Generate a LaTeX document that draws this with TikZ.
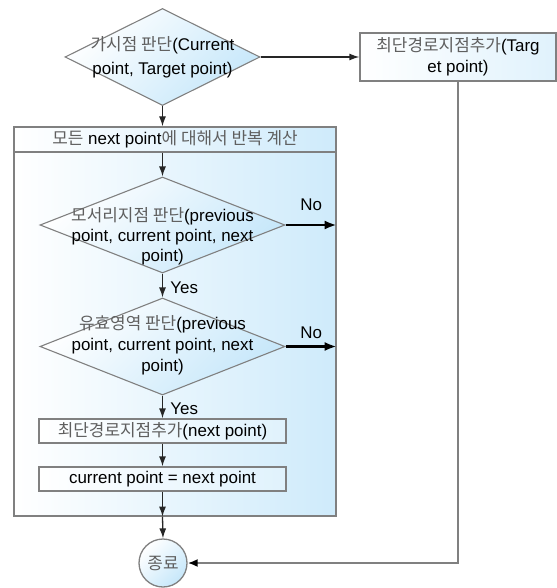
\documentclass[tikz,border=0pt]{standalone}
\usepackage{fontspec}
\setmainfont{Liberation Sans}
\newfontfamily\kr{Noto Sans CJK KR}
\usetikzlibrary{shapes.geometric,arrows.meta}
\definecolor{skyfill}{RGB}{198,231,250}
\definecolor{edgegray}{RGB}{128,128,128}
\definecolor{krgray}{RGB}{95,95,95}
\newcommand{\ko}[1]{{\kr\color{krgray}#1}}
\tikzset{
  loopbox/.style={rectangle, draw=edgegray, line width=1.3bp, left color=white, right color=skyfill!85},
  procbox/.style={rectangle, draw=edgegray, line width=1.3bp, left color=white, right color=skyfill!55, inner sep=0pt},
  decision/.style={diamond, draw=edgegray, line width=1.1bp, inner sep=0pt, top color=white, bottom color=skyfill, shading angle=45},
  endcircle/.style={circle, draw=edgegray, line width=1.3bp, inner sep=0pt, top color=white, bottom color=skyfill, shading angle=45},
  flow/.style={draw=black!85, line width=1.3bp, -{Latex[length=10bp,width=7bp]}},
  nobranch/.style={draw=black, line width=2.5bp, -{Latex[length=12bp,width=9bp]}},
  backline/.style={draw=edgegray, line width=2bp, -{Latex[length=10bp,width=8bp,color=black]}}
}
\begin{document}
\begin{tikzpicture}[x=1bp, y=-1bp, font=\fontsize{17}{21}\selectfont]
  \useasboundingbox (0,0) rectangle (557,588);
  \node [loopbox, minimum width=322bp, minimum height=364bp] (loopbody) at (175,334) {};
  \node [loopbox, minimum width=322bp, minimum height=25bp, inner sep=0pt] (loophead) at (175,139.5) {\ko{모든} next point\ko{에 대해서 반복 계산}};
  \node [decision, minimum width=195bp, minimum height=97bp] (vis) at (162.5,57) {};
  \node [align=center, font=\fontsize{17}{24}\selectfont] (vistxt) at (162.5,57) {\ko{가시점 판단}(Current\\point, Target point)};
  \node [procbox, minimum width=196bp, minimum height=48bp, align=center] (addtarget) at (458,57) {\ko{최단경로지점추가}(Targ\\et point)};
  \node [decision, minimum width=245bp, minimum height=96bp] (corner) at (162.5,225) {};
  \node [align=center, font=\fontsize{17}{20}\selectfont] (cornertxt) at (162.5,236) {\ko{모서리지점 판단}(previous\\point, current point, next\\point)};
  \node [decision, minimum width=245bp, minimum height=97bp] (valid) at (162.5,346.5) {};
  \node [align=center] (validtxt) at (162.5,345) {\ko{유효영역 판단}(previous\\point, current point, next\\point)};
  \node [procbox, minimum width=247bp, minimum height=24bp] (addnext) at (162.5,431) {\ko{최단경로지점추가}(next point)};
  \node [procbox, minimum width=247bp, minimum height=24bp] (update) at (162.5,479) {current point = next point};
  \node [endcircle, minimum size=48bp] (finish) at (163,563) {\ko{종료}};

  \draw [flow] (vis.south) -- (vis.south |- loophead.north);
  \draw [flow] (vis.east) -- (addtarget.west);
  \draw [flow] (corner.north |- loophead.south) -- (corner.north);
  \draw [flow] (corner.south) -- node [pos=.58, right, xshift=4bp] {Yes} (valid.north);
  \draw [flow] (valid.south) -- node [pos=.58, right, xshift=4bp] {Yes} (addnext.north);
  \draw [flow] (addnext.south) -- (update.north);
  \draw [flow] (update.south) -- (update.south |- loopbody.south);
  \draw [flow] (update.south |- loopbody.south) -- (finish.north);
  \draw [nobranch] (corner.east) -- node [above=10bp] {No} (corner.east -| loopbody.east);
  \draw [nobranch] (valid.east) -- node [above=3bp] {No} (valid.east -| loopbody.east);
  \draw [backline] (addtarget.south) |- (finish.east);
\end{tikzpicture}
\end{document}
